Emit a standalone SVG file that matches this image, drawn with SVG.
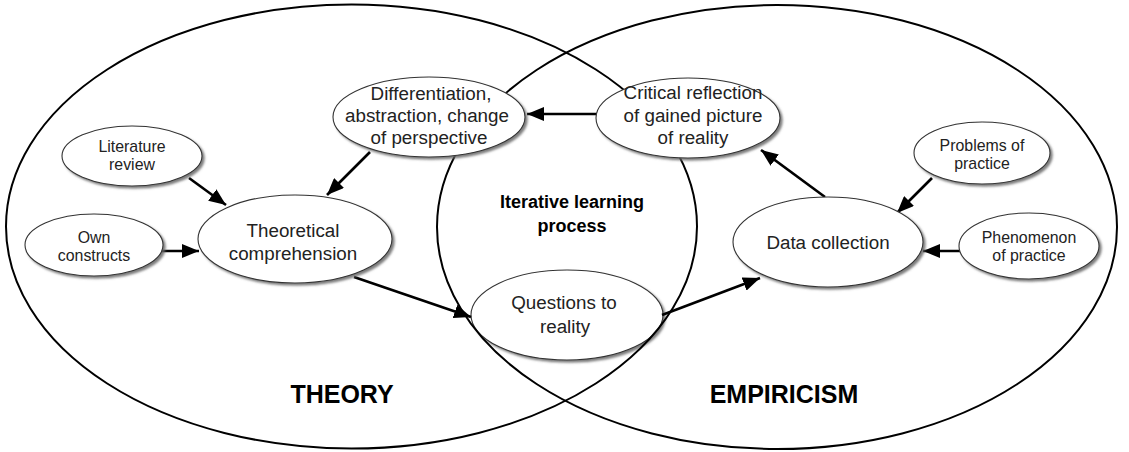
<svg xmlns="http://www.w3.org/2000/svg" width="1129" height="452" viewBox="0 0 1129 452">
  <style>
    .region { fill: none; stroke: #000; stroke-width: 2; }
    .node { fill: #fff; stroke: #333; stroke-width: 1.1; filter: url(#shadow); }
    .lbl { font-family: "Liberation Sans", Arial, sans-serif; fill: #222; text-anchor: middle; }
    .big { font-size: 18.8px; }
    .small { font-size: 15.9px; }
    .head { font-family: "Liberation Sans", Arial, sans-serif; font-weight: bold; fill: #000; text-anchor: middle; }
    .edge { stroke: #000; stroke-width: 2.6; fill: none; marker-end: url(#arrow); }
  </style>
  <defs>
    <filter id="shadow" x="-10%" y="-10%" width="125%" height="130%">
      <feDropShadow dx="2.2" dy="2.2" stdDeviation="0.8" flood-color="#666" flood-opacity="0.85"/>
    </filter>
    <marker id="arrow" markerUnits="userSpaceOnUse" markerWidth="18" markerHeight="14" refX="17" refY="7" orient="auto">
      <path d="M0,0 L17,7 L0,14 z" fill="#000"/>
    </marker>
  </defs>

  <rect width="1129" height="452" fill="#fff"/>

  <!-- node sitting under the region outlines -->
  <g id="node-questions">
    <ellipse class="node" cx="567" cy="315" rx="96" ry="45"/>
    <text class="lbl big" x="564" y="309">Questions to</text>
    <text class="lbl big" x="565" y="333">reality</text>
  </g>

  <!-- the two overlapping domains -->
  <g id="regions">
    <ellipse class="region" cx="351.5" cy="226.5" rx="345.5" ry="222"/>
    <ellipse class="region" cx="777" cy="227" rx="340" ry="222"/>
    <text class="head" x="342" y="403" font-size="25">THEORY</text>
    <text class="head" x="784" y="403" font-size="25">EMPIRICISM</text>
    <text class="head" x="572" y="208" font-size="18">Iterative learning</text>
    <text class="head" x="572" y="232" font-size="18">process</text>
  </g>

  <!-- connectors -->
  <g id="connectors">
    <line class="edge" x1="597" y1="114" x2="527" y2="114"/>
    <line class="edge" x1="370" y1="152" x2="327" y2="195"/>
    <line class="edge" x1="189" y1="178" x2="226" y2="205"/>
    <line class="edge" x1="161" y1="251" x2="199" y2="251"/>
    <line class="edge" x1="354" y1="277" x2="471" y2="317"/>
    <line class="edge" x1="662" y1="315" x2="760" y2="278"/>
    <line class="edge" x1="825" y1="197" x2="761" y2="150"/>
    <line class="edge" x1="932" y1="178" x2="897" y2="213"/>
    <line class="edge" x1="961" y1="251" x2="923" y2="251"/>
  </g>

  <g id="node-literature">
    <ellipse class="node" cx="132" cy="156" rx="70" ry="30"/>
    <text class="lbl small" x="132" y="152">Literature</text>
    <text class="lbl small" x="132" y="170">review</text>
  </g>

  <g id="node-own-constructs">
    <ellipse class="node" cx="94" cy="245" rx="69" ry="31"/>
    <text class="lbl small" x="94" y="243">Own</text>
    <text class="lbl small" x="94" y="261">constructs</text>
  </g>

  <g id="node-theoretical">
    <ellipse class="node" cx="295" cy="239" rx="97" ry="44"/>
    <text class="lbl big" x="293" y="237">Theoretical</text>
    <text class="lbl big" x="293" y="260">comprehension</text>
  </g>

  <g id="node-differentiation">
    <ellipse class="node" cx="429" cy="117" rx="96" ry="40"/>
    <text class="lbl big" x="431" y="100">Differentiation,</text>
    <text class="lbl big" x="427" y="122">abstraction, change</text>
    <text class="lbl big" x="429" y="144">of perspective</text>
  </g>

  <g id="node-critical-reflection">
    <ellipse class="node" cx="688" cy="118" rx="92" ry="40"/>
    <text class="lbl big" x="693" y="99">Critical reflection</text>
    <text class="lbl big" x="693" y="122">of gained picture</text>
    <text class="lbl big" x="693" y="144">of reality</text>
  </g>

  <g id="node-data-collection">
    <ellipse class="node" cx="828" cy="242" rx="95" ry="45"/>
    <text class="lbl big" x="828" y="249">Data collection</text>
  </g>

  <g id="node-problems">
    <ellipse class="node" cx="982" cy="153" rx="68" ry="31"/>
    <text class="lbl small" x="982" y="151">Problems of</text>
    <text class="lbl small" x="982" y="169">practice</text>
  </g>

  <g id="node-phenomenon">
    <ellipse class="node" cx="1029" cy="246" rx="70" ry="33"/>
    <text class="lbl small" x="1029" y="243">Phenomenon</text>
    <text class="lbl small" x="1029" y="261">of practice</text>
  </g>
</svg>
